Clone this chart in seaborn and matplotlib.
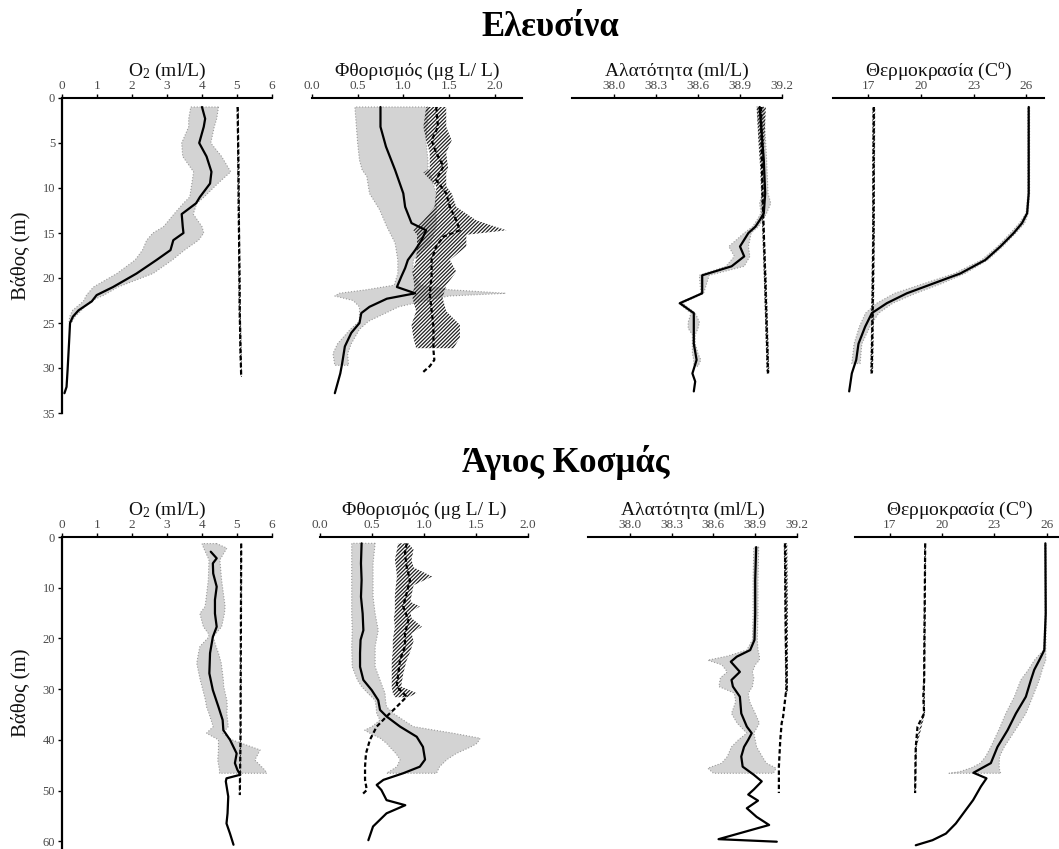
import numpy as np
import matplotlib
matplotlib.use("Agg")
import matplotlib.pyplot as plt
import seaborn as sns

# ---------------- Ελευσίνα ----------------
# O2, series A (solid line, grey band)
ele_o2_a_depth = [1, 2.3, 3.2, 5, 6.5, 8.2, 9.5, 11, 11.7, 12.9, 14.3, 15, 15.8, 16.9, 18, 19.5,
                  21, 21.9, 22.6, 23.6, 24.3, 25, 27.3, 30.2, 32.1, 32.8]
ele_o2_a_mean = [4.0, 4.09, 4.05, 3.92, 4.13, 4.27, 4.23, 3.94, 3.83, 3.42, 3.45, 3.47, 3.18, 3.1, 2.7, 2.13,
                 1.46, 0.99, 0.85, 0.47, 0.31, 0.23, 0.20, 0.16, 0.13, 0.07]
ele_o2_a_bdepth = [1, 2.3, 3.2, 5, 6.5, 8.2, 9.5, 11, 11.7, 12.9, 14.3, 15, 15.8, 16.9, 18, 19.5,
                   21, 21.9, 22.6, 23.6, 24.3, 25]
ele_o2_a_lo = [3.68, 3.62, 3.62, 3.42, 3.45, 3.76, 3.71, 3.65, 3.47, 3.2, 2.9, 2.6, 2.42, 2.3, 2.09, 1.57,
               0.9, 0.7, 0.61, 0.3, 0.22, 0.2]
ele_o2_a_hi = [4.47, 4.42, 4.35, 4.25, 4.56, 4.82, 4.45, 4.06, 3.85, 3.75, 4.0, 4.05, 3.9, 3.5, 3.15, 2.6,
               1.6, 1.2, 0.8, 0.55, 0.37, 0.27]
# O2, series B (dashed line, hatched band)
ele_o2_b_depth = [1, 8, 16, 24, 28, 31]
ele_o2_b_mean = [5.02, 5.04, 5.06, 5.08, 5.1, 5.12]
ele_o2_b_bdepth = [1, 8, 16, 24, 28, 31]
ele_o2_b_lo = [4.99, 5.01, 5.03, 5.05, 5.07, 5.1]
ele_o2_b_hi = [5.05, 5.07, 5.09, 5.11, 5.13, 5.14]

# Fluorescence
ele_fl_a_depth = [1, 3.2, 5.4, 8, 10.6, 12.1, 13.9, 14.7, 15.8, 16.9, 18, 18.9, 19.8, 21, 21.7, 22.3,
                  23.2, 23.9, 25, 26.1, 27.6, 29.5, 30.6, 32.8]
ele_fl_a_mean = [0.75, 0.75, 0.81, 0.91, 1.0, 1.02, 1.09, 1.25, 1.2, 1.13, 1.05, 1.02, 0.98, 0.93, 1.13, 0.82,
                 0.63, 0.54, 0.52, 0.43, 0.36, 0.33, 0.31, 0.25]
ele_fl_a_bdepth = [1, 5.0, 6.9, 8.0, 8.7, 10.6, 12.4, 14.3, 16.1, 18, 19.5, 20.8, 21.3, 21.7, 22.0, 22.5,
                   23.2, 24.8, 25.7, 27.3, 28.4, 29.7]
ele_fl_a_lo = [0.47, 0.5, 0.52, 0.55, 0.6, 0.63, 0.74, 0.82, 0.91, 0.94, 0.94, 0.9, 0.6, 0.3, 0.25, 0.45,
               0.52, 0.52, 0.42, 0.28, 0.23, 0.25]
ele_fl_a_hi = [1.27, 1.25, 1.27, 1.27, 1.3, 1.36, 1.36, 1.36, 1.3, 1.11, 1.1, 1.2, 1.5, 2.12, 1.5, 1.25,
               0.95, 0.62, 0.52, 0.43, 0.39, 0.4]
ele_fl_b_depth = [1, 3.2, 4.7, 6.1, 7.6, 9.1, 10.6, 12.1, 13.6, 14.7, 15.4, 16.5, 18, 19.8, 21.7, 23.6,
                  25.4, 28, 29.1, 29.8, 30.6]
ele_fl_b_mean = [1.36, 1.38, 1.31, 1.36, 1.44, 1.36, 1.47, 1.51, 1.58, 1.62, 1.44, 1.36, 1.31, 1.31, 1.29, 1.31,
                 1.33, 1.33, 1.34, 1.29, 1.20]
ele_fl_b_bdepth = [1, 3.2, 4.7, 6.1, 7.8, 8.3, 9.8, 10.6, 12.1, 13.6, 14.7, 15.2, 16.5, 18, 19.3, 20.8,
                   22.2, 23.7, 25.2, 26.6, 27.8]
ele_fl_b_lo = [1.25, 1.22, 1.25, 1.29, 1.29, 1.22, 1.36, 1.36, 1.34, 1.22, 1.11, 1.15, 1.15, 1.14, 1.1, 1.12,
               1.1, 1.14, 1.09, 1.11, 1.14]
ele_fl_b_hi = [1.47, 1.47, 1.53, 1.47, 1.49, 1.47, 1.47, 1.53, 1.58, 1.8, 2.13, 1.69, 1.69, 1.51, 1.58, 1.47,
               1.43, 1.47, 1.62, 1.62, 1.55]

# Salinity
ele_sal_a_depth = [1, 6.9, 10.6, 12.8, 13.6, 14.3, 15.0, 16.5, 17.6, 18.7, 19.7, 21.7, 22.8, 23.9, 25.4,
                   27.3, 29.1, 30.6, 31.5, 32.6]
ele_sal_a_mean = [39.04, 39.07, 39.08, 39.07, 39.04, 39.01, 38.96, 38.90, 38.93, 38.84, 38.63, 38.63, 38.47,
                  38.57, 38.57, 38.57, 38.59, 38.56, 38.58, 38.57]
ele_sal_a_bdepth = [1, 6.9, 10.6, 11.7, 12.8, 13.6, 14.3, 15.0, 16.5, 17.6, 18.7, 19.7, 21.7, 22.8, 23.9,
                    24.9, 25.6, 26.3, 27.3, 28.4, 29.1, 29.8]
ele_sal_a_lo = [39.02, 39.05, 39.06, 39.04, 39.05, 39.02, 38.99, 38.93, 38.82, 38.86, 38.80, 38.61, 38.62,
                38.46, 38.55, 38.53, 38.53, 38.56, 38.56, 38.56, 38.57, 38.57]
ele_sal_a_hi = [39.07, 39.09, 39.10, 39.12, 39.09, 39.06, 39.03, 38.98, 38.96, 38.97, 38.93, 38.68, 38.64,
                38.49, 38.58, 38.61, 38.60, 38.58, 38.58, 38.60, 38.62, 38.60]
ele_sal_b_depth = [1, 10, 20, 30.6]
ele_sal_b_mean = [39.05, 39.06, 39.08, 39.10]
ele_sal_b_bdepth = [1, 4.5, 8, 13, 20, 30.6]
ele_sal_b_lo = [39.02, 39.03, 39.045, 39.055, 39.07, 39.09]
ele_sal_b_hi = [39.085, 39.075, 39.07, 39.07, 39.09, 39.11]

# Temperature
ele_tmp_a_depth = [1, 10.6, 12.8, 13.9, 15.0, 16.5, 18.0, 19.5, 20.6, 21.7, 22.8, 23.9, 25.4, 27.3, 29.1,
                   30.6, 32.6]
ele_tmp_a_mean = [26.13, 26.13, 26.04, 25.75, 25.28, 24.52, 23.66, 22.24, 20.72, 19.2, 18.06, 17.21, 16.83,
                  16.45, 16.32, 16.07, 15.92]
ele_tmp_a_bdepth = [1, 10.6, 12.8, 13.9, 15.0, 16.5, 18.0, 19.5, 20.6, 21.7, 22.8, 23.9, 25.4, 27.3, 29.5]
ele_tmp_a_lo = [26.08, 26.08, 25.98, 25.6, 25.1, 24.35, 23.45, 21.9, 20.2, 18.5, 17.5, 16.85, 16.5, 16.2, 16.07]
ele_tmp_a_hi = [26.18, 26.18, 26.1, 25.9, 25.4, 24.65, 23.8, 22.5, 21.2, 19.7, 18.4, 17.6, 17.1, 16.64, 16.54]
ele_tmp_b_depth = [1, 15, 24, 30.6]
ele_tmp_b_mean = [17.32, 17.3, 17.25, 17.2]
ele_tmp_b_bdepth = [1, 15, 24, 30.6]
ele_tmp_b_lo = [17.24, 17.22, 17.17, 17.12]
ele_tmp_b_hi = [17.4, 17.38, 17.33, 17.28]

# ---------------- Άγιος Κοσμάς ----------------
agk_o2_a_depth = [2.9, 4.2, 5.2, 7.2, 9.8, 12.4, 15.1, 17.7, 19.7, 22.9, 26.9, 30.2, 33.5, 36.1, 38.1, 40.0,
                  42.7, 44.6, 45.9, 46.9, 47.6, 48.2, 51.2, 54.5, 56.5, 58.5, 60.7]
agk_o2_a_mean = [4.25, 4.42, 4.31, 4.32, 4.42, 4.37, 4.37, 4.42, 4.31, 4.23, 4.21, 4.31, 4.47, 4.59, 4.61, 4.8,
                 4.99, 4.94, 5.01, 5.09, 4.70, 4.68, 4.75, 4.73, 4.70, 4.80, 4.9]
agk_o2_a_bdepth = [1.3, 2.2, 4.5, 8.5, 13.7, 15.1, 17.7, 19.0, 19.7, 21.6, 22.9, 24.9, 28.2, 29.5, 32.2,
                   33.5, 34.8, 37.4, 38.7, 40.0, 42.0, 44.0, 46.0, 46.6]
agk_o2_a_lo = [4.0, 4.05, 4.2, 4.18, 4.09, 3.94, 4.04, 4.18, 4.2, 3.94, 3.9, 3.85, 3.95, 4.0, 4.1, 4.13,
               4.2, 4.32, 4.13, 4.47, 4.47, 4.45, 4.5, 4.5]
agk_o2_a_hi = [4.42, 4.71, 4.51, 4.56, 4.66, 4.64, 4.56, 4.4, 4.32, 4.4, 4.47, 4.55, 4.61, 4.62, 4.71, 4.72,
               4.71, 4.75, 4.59, 4.85, 5.66, 5.51, 5.8, 5.85]
agk_o2_b_depth = [1.3, 20, 40, 50.9]
agk_o2_b_mean = [5.12, 5.11, 5.1, 5.08]
agk_o2_b_bdepth = [1.3, 20, 40, 50.9]
agk_o2_b_lo = [5.1, 5.09, 5.08, 5.06]
agk_o2_b_hi = [5.14, 5.13, 5.12, 5.1]

agk_fl_a_depth = [1.25, 5.2, 8.5, 11.8, 15.1, 18.4, 20.3, 22.9, 25.6, 28.2, 30.2, 32.2, 34.1, 35.4, 37.4,
                  39.4, 41.4, 43.9, 45.3, 46.6, 47.9, 48.9, 49.9, 51.9, 52.9, 54.5, 57.1, 59.8]
agk_fl_a_mean = [0.40, 0.394, 0.40, 0.394, 0.41, 0.417, 0.39, 0.385, 0.385, 0.417, 0.497, 0.56, 0.577, 0.64,
                 0.77, 0.93, 0.99, 1.01, 0.96, 0.80, 0.61, 0.545, 0.59, 0.64, 0.82, 0.64, 0.51, 0.465]
agk_fl_a_bdepth = [1.25, 5.2, 8.5, 11.8, 15.1, 18.4, 21.6, 25.6, 28.2, 29.5, 30.8, 32.2, 33.5, 34.8, 36.1,
                   37.4, 38.1, 38.7, 39.7, 40.7, 41.4, 42.7, 43.9, 45.3, 46.6]
agk_fl_a_lo = [0.305, 0.305, 0.305, 0.305, 0.305, 0.31, 0.305, 0.31, 0.36, 0.4, 0.46, 0.53, 0.54, 0.545,
               0.577, 0.5, 0.43, 0.48, 0.58, 0.64, 0.67, 0.73, 0.77, 0.74, 0.64]
agk_fl_a_hi = [0.53, 0.51, 0.51, 0.51, 0.53, 0.56, 0.53, 0.53, 0.577, 0.6, 0.625, 0.63, 0.64, 0.705, 0.8,
               0.897, 1.1, 1.28, 1.54, 1.51, 1.45, 1.31, 1.22, 1.15, 1.12]
agk_fl_b_depth = [1.25, 3.2, 5.8, 8.5, 11.1, 13.7, 16.4, 19.0, 21.6, 24.2, 26.9, 29.5, 30.8, 31.5, 33.5,
                  35.4, 37.4, 40.0, 42.7, 45.3, 47.9, 49.9, 50.9]
agk_fl_b_mean = [0.833, 0.817, 0.833, 0.865, 0.833, 0.80, 0.85, 0.817, 0.817, 0.77, 0.753, 0.737, 0.80, 0.833,
                 0.737, 0.64, 0.545, 0.48, 0.442, 0.433, 0.433, 0.45, 0.40]
agk_fl_b_bdepth = [1.25, 2.5, 4.5, 6.0, 7.8, 9.5, 11.5, 12.8, 13.7, 14.8, 16.0, 17.7, 19.0, 20.5, 22.5,
                   24.5, 27.0, 29.5, 30.8, 31.6]
agk_fl_b_lo = [0.75, 0.74, 0.72, 0.73, 0.74, 0.73, 0.72, 0.72, 0.72, 0.72, 0.71, 0.72, 0.71, 0.7, 0.7,
               0.69, 0.69, 0.69, 0.7, 0.72]
agk_fl_b_hi = [0.85, 0.9, 0.88, 0.9, 1.08, 0.9, 0.88, 0.87, 0.96, 0.87, 0.88, 0.98, 0.88, 0.9, 0.87,
               0.83, 0.8, 0.78, 0.93, 0.85]

agk_sal_a_depth = [2.0, 8.5, 15.1, 20.3, 22.3, 23.6, 24.6, 26.6, 28.2, 29.5, 31.5, 34.8, 37.4, 38.7, 40.0,
                   41.4, 43.3, 45.3, 46.9, 48.2, 49.8, 50.8, 52.0, 53.5, 55.2, 56.8, 59.6, 60.1]
agk_sal_a_mean = [38.907, 38.90, 38.90, 38.895, 38.864, 38.768, 38.725, 38.79, 38.73, 38.74, 38.79, 38.80,
                  38.84, 38.875, 38.85, 38.82, 38.80, 38.81, 38.89, 38.947, 38.89, 38.85, 38.92, 38.84,
                  38.91, 39.0, 38.637, 39.055]
agk_sal_a_bdepth = [2.0, 8.5, 15.1, 20.3, 22.3, 23.5, 24.3, 25.2, 26.6, 27.8, 29.5, 30.8, 32.5, 34.8, 36.7,
                    38.7, 40.0, 41.4, 43.3, 44.6, 45.6, 46.6]
agk_sal_a_lo = [38.89, 38.885, 38.885, 38.88, 38.84, 38.70, 38.56, 38.66, 38.70, 38.65, 38.64, 38.75, 38.76,
                38.73, 38.77, 38.84, 38.78, 38.73, 38.70, 38.66, 38.56, 38.60]
agk_sal_a_hi = [38.925, 38.92, 38.92, 38.915, 38.92, 38.93, 38.93, 38.90, 38.88, 38.89, 38.88, 38.85, 38.86,
                38.90, 38.93, 38.89, 38.90, 38.91, 38.95, 38.98, 39.05, 39.03]
agk_sal_b_depth = [1.25, 20, 29.5, 30.8, 35.5, 36.7, 40.0, 45.3, 50.5]
agk_sal_b_mean = [39.114, 39.12, 39.126, 39.12, 39.10, 39.09, 39.08, 39.07, 39.07]
agk_sal_b_bdepth = [1.25, 15, 30.8]
agk_sal_b_lo = [39.105, 39.11, 39.115]
agk_sal_b_hi = [39.13, 39.135, 39.135]

agk_tmp_a_depth = [1.25, 15.1, 22.3, 24.3, 26.2, 28.2, 31.5, 34.8, 38.1, 41.4, 44.6, 46.5, 47.6, 49.2, 51.9,
                   53.8, 56.5, 58.5, 59.8, 60.8]
agk_tmp_a_mean = [25.93, 25.95, 25.87, 25.58, 25.29, 25.10, 24.81, 24.24, 23.76, 23.18, 22.80, 21.8, 22.55,
                  22.23, 21.78, 21.37, 20.79, 20.22, 19.45, 18.49]
agk_tmp_a_bdepth = [1.25, 15.1, 22.3, 24.3, 26.2, 28.2, 31.5, 34.8, 38.1, 41.4, 43.3, 44.6, 45.5, 46.3, 46.6]
agk_tmp_a_lo = [25.9, 25.92, 25.82, 25.3, 24.95, 24.52, 24.15, 23.66, 23.25, 22.80, 22.5, 22.2, 21.7, 21.0, 20.4]
agk_tmp_a_hi = [25.97, 25.99, 25.95, 25.95, 25.75, 25.58, 25.2, 24.81, 24.2, 23.57, 23.3, 23.28, 23.28, 23.32,
                23.38]
agk_tmp_b_depth = [1.25, 28.2, 31.5, 34.8, 36.1, 37.4, 41.4, 50.5]
agk_tmp_b_mean = [19.03, 18.97, 18.92, 18.97, 18.78, 18.59, 18.49, 18.45]
agk_tmp_b_bdepth = [1.25, 28.2, 34.8, 41.4, 50.5]
agk_tmp_b_lo = [18.98, 18.92, 18.92, 18.44, 18.4]
agk_tmp_b_hi = [19.08, 19.02, 19.02, 18.54, 18.5]

# ---------------- Axis texts ----------------
station_titles = ["Ελευσίνα", "Άγιος Κοσμάς"]
depth_label = "Βάθος (m)"
o2_label = "O$_\\mathrm{2}$ (ml/L)"
fl_label = "Φθορισμός (μg L/ L)"
sal_label = "Αλατότητα (ml/L)"
tmp_label = "Θερμοκρασία (C$^\\mathrm{o}$)"

o2_ticks = [0, 1, 2, 3, 4, 5, 6]
fl_ticks = [0.0, 0.5, 1.0, 1.5, 2.0]
sal_ticks = [38.0, 38.3, 38.6, 38.9, 39.2]
tmp_ticks = [17, 20, 23, 26]
ele_depth_ticks = [0, 5, 10, 15, 20, 25, 30, 35]
agk_depth_ticks = [0, 10, 20, 30, 40, 50, 60]

# ---------------- Figure ----------------
sns.set_theme(style="white")
plt.rcParams["font.family"] = ["Liberation Serif", "DejaVu Serif"]
plt.rcParams["mathtext.fontset"] = "custom"
plt.rcParams["mathtext.rm"] = "Liberation Serif"
plt.rcParams["mathtext.it"] = "Liberation Serif:italic"
plt.rcParams["hatch.linewidth"] = 0.9

W, H = 1059, 849
fig = plt.figure(figsize=(W / 100, H / 100), dpi=100)
fig.patch.set_facecolor("white")


def add_panel(x0, x1, y0, y1):
    return fig.add_axes([x0 / W, 1 - y1 / H, (x1 - x0) / W, (y1 - y0) / H])


def draw_series(ax, depth, mean, bdepth, lo, hi, dashed):
    if dashed:
        ax.fill_betweenx(bdepth, lo, hi, facecolor="none", edgecolor="#202020",
                         hatch="/////////", linewidth=0, zorder=2)
        sns.lineplot(x=mean, y=depth, sort=False, estimator=None, orient="y", ax=ax,
                     color="black", linewidth=1.6, linestyle=(0, (2.0, 1.2)), zorder=5)
    else:
        ax.fill_betweenx(bdepth, lo, hi, facecolor="#d3d3d3", edgecolor="#9a9a9a",
                         linewidth=0.8, linestyle=":", zorder=1)
        sns.lineplot(x=mean, y=depth, sort=False, estimator=None, orient="y", ax=ax,
                     color="black", linewidth=1.6, zorder=4)


def style_panel(ax, xlim, xticks, xlabel, ymax, yticks, show_depth):
    ax.set_xlim(*xlim)
    ax.set_ylim(ymax, 0)
    ax.set_facecolor("none")
    ax.xaxis.tick_top()
    ax.xaxis.set_label_position("top")
    ax.set_xticks(xticks)
    if isinstance(xticks[0], float):
        ax.set_xticklabels([f"{t:.1f}" for t in xticks])
    else:
        ax.set_xticklabels([str(t) for t in xticks])
    for side in ("right", "bottom"):
        ax.spines[side].set_visible(False)
    ax.spines["top"].set_linewidth(1.5)
    ax.spines["top"].set_color("black")
    ax.tick_params(axis="x", top=True, bottom=False, direction="out", length=3, width=1,
                   pad=1.5, labelsize=9.5, labelcolor="#4a4a4a", color="black")
    ax.set_xlabel(xlabel, fontsize=14, labelpad=3, color="#111111")
    if show_depth:
        ax.spines["left"].set_linewidth(1.6)
        ax.spines["left"].set_color("black")
        ax.set_yticks(yticks)
        ax.set_yticklabels([str(t) for t in yticks])
        ax.tick_params(axis="y", left=True, direction="out", length=3, width=1, pad=2,
                       labelsize=9, labelcolor="#4a4a4a", color="black")
        ax.set_ylabel(depth_label, fontsize=15, labelpad=9, color="#111111")
    else:
        ax.spines["left"].set_visible(False)
        ax.set_yticks([])
        ax.set_ylabel("")


# panel pixel columns (left, right) and value ranges
top_y0, top_y1, top_ymax = 98, 413, 35
bot_y0, bot_ymax = 537, 61.5
bot_y1 = bot_y0 + bot_ymax * 5.07

rows = [
    dict(y0=top_y0, y1=top_y1, ymax=top_ymax, yticks=ele_depth_ticks, panels=[
        ((62, 272), (0, 6), o2_ticks, o2_label,
         (ele_o2_a_depth, ele_o2_a_mean, ele_o2_a_bdepth, ele_o2_a_lo, ele_o2_a_hi),
         (ele_o2_b_depth, ele_o2_b_mean, ele_o2_b_bdepth, ele_o2_b_lo, ele_o2_b_hi)),
        ((312, 522), (0, 2.3), fl_ticks, fl_label,
         (ele_fl_a_depth, ele_fl_a_mean, ele_fl_a_bdepth, ele_fl_a_lo, ele_fl_a_hi),
         (ele_fl_b_depth, ele_fl_b_mean, ele_fl_b_bdepth, ele_fl_b_lo, ele_fl_b_hi)),
        ((572, 782), (37.7, 39.2), sal_ticks, sal_label,
         (ele_sal_a_depth, ele_sal_a_mean, ele_sal_a_bdepth, ele_sal_a_lo, ele_sal_a_hi),
         (ele_sal_b_depth, ele_sal_b_mean, ele_sal_b_bdepth, ele_sal_b_lo, ele_sal_b_hi)),
        ((833, 1044), (15, 27), tmp_ticks, tmp_label,
         (ele_tmp_a_depth, ele_tmp_a_mean, ele_tmp_a_bdepth, ele_tmp_a_lo, ele_tmp_a_hi),
         (ele_tmp_b_depth, ele_tmp_b_mean, ele_tmp_b_bdepth, ele_tmp_b_lo, ele_tmp_b_hi)),
    ]),
    dict(y0=bot_y0, y1=bot_y1, ymax=bot_ymax, yticks=agk_depth_ticks, panels=[
        ((62, 272), (0, 6), o2_ticks, o2_label,
         (agk_o2_a_depth, agk_o2_a_mean, agk_o2_a_bdepth, agk_o2_a_lo, agk_o2_a_hi),
         (agk_o2_b_depth, agk_o2_b_mean, agk_o2_b_bdepth, agk_o2_b_lo, agk_o2_b_hi)),
        ((320, 528), (0, 2.0), fl_ticks, fl_label,
         (agk_fl_a_depth, agk_fl_a_mean, agk_fl_a_bdepth, agk_fl_a_lo, agk_fl_a_hi),
         (agk_fl_b_depth, agk_fl_b_mean, agk_fl_b_bdepth, agk_fl_b_lo, agk_fl_b_hi)),
        ((588, 797), (37.7, 39.2), sal_ticks, sal_label,
         (agk_sal_a_depth, agk_sal_a_mean, agk_sal_a_bdepth, agk_sal_a_lo, agk_sal_a_hi),
         (agk_sal_b_depth, agk_sal_b_mean, agk_sal_b_bdepth, agk_sal_b_lo, agk_sal_b_hi)),
        ((855, 1064), (15, 27), tmp_ticks, tmp_label,
         (agk_tmp_a_depth, agk_tmp_a_mean, agk_tmp_a_bdepth, agk_tmp_a_lo, agk_tmp_a_hi),
         (agk_tmp_b_depth, agk_tmp_b_mean, agk_tmp_b_bdepth, agk_tmp_b_lo, agk_tmp_b_hi)),
    ]),
]

for row in rows:
    for i, (cols, xlim, xticks, xlabel, ser_a, ser_b) in enumerate(row["panels"]):
        ax = add_panel(cols[0], cols[1], row["y0"], row["y1"])
        draw_series(ax, *ser_a, dashed=False)
        draw_series(ax, *ser_b, dashed=True)
        style_panel(ax, xlim, xticks, xlabel, row["ymax"], row["yticks"], show_depth=(i == 0))
        ax.set_ylim(row["ymax"], 0)

fig.text(550 / W, 1 - 27 / H, station_titles[0], ha="center", va="center",
         fontsize=25, fontweight="bold", color="black")
fig.text(566 / W, 1 - 462 / H, station_titles[1], ha="center", va="center",
         fontsize=25, fontweight="bold", color="black")

fig.savefig("out.png", dpi=100, facecolor="white")
